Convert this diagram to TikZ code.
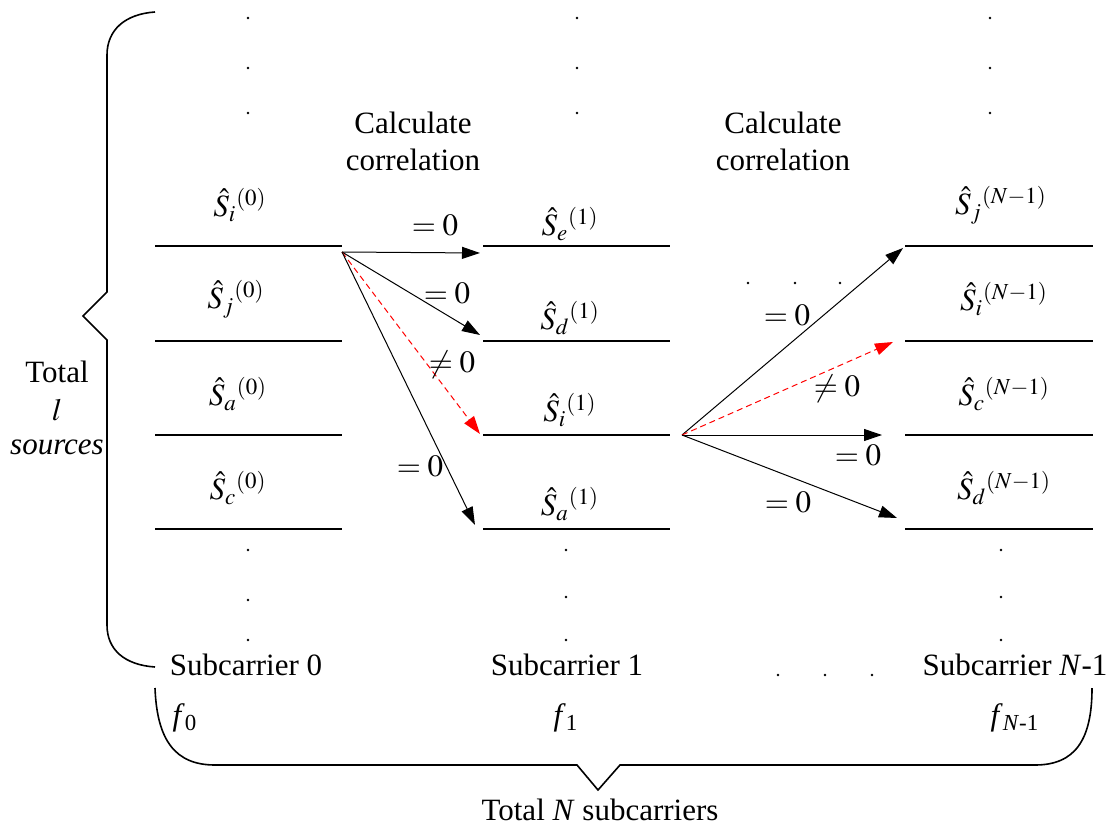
\documentclass[tikz,border=0pt]{standalone}
\usepackage{mathptmx}
\usepackage[no-math]{fontspec}
\setmainfont{Liberation Serif}
\usetikzlibrary{calc, arrows.meta}

\begin{document}
\begin{tikzpicture}[x=0.5pt, y=-0.5pt,
    every node/.style={font=\fontsize{15.5}{18.5}\selectfont, inner sep=0pt},
    slot/.style={line width=1pt},
    link/.style={line width=0.5pt, -{Triangle[length=9pt,width=6pt]}},
    hit/.style={link, red, dash pattern=on 3pt off 2pt},
    brace/.style={line width=0.8pt}]
  \useasboundingbox (0,0) rectangle (1113,829);

  % slots of the three subcarriers
  \foreach \xa/\xb in {155/342, 483/670, 905/1093}
    \foreach \y in {246,341,435,529}
      \draw[slot] (\xa,\y) -- (\xb,\y);

  % estimated sources
  \node (s0i) at (240,205) {$\hat{S}_i{}^{(0)}$};
  \node (s0j) at (236,299) {$\hat{S}_j{}^{(0)}$};
  \node (s0a) at (238,394) {$\hat{S}_a{}^{(0)}$};
  \node (s0c) at (238,488) {$\hat{S}_c{}^{(0)}$};
  \node (s1e) at (570,224) {$\hat{S}_e{}^{(1)}$};
  \node (s1d) at (570,318) {$\hat{S}_d{}^{(1)}$};
  \node (s1i) at (570,410) {$\hat{S}_i{}^{(1)}$};
  \node (s1a) at (570,504) {$\hat{S}_a{}^{(1)}$};
  \node (sNj) at (1001,205) {$\hat{S}_j{}^{(N-1)}$};
  \node (sNi) at (1004,299) {$\hat{S}_i{}^{(N-1)}$};
  \node (sNc) at (1004,394) {$\hat{S}_c{}^{(N-1)}$};
  \node (sNd) at (1004,488) {$\hat{S}_d{}^{(N-1)}$};

  \node[align=center] (calc1) at (413,141) {Calculate\\correlation};
  \node[align=center] (calc2) at (783,141) {Calculate\\correlation};

  % correlation arrows
  \coordinate (o1) at (342,252);
  \coordinate (t1) at (480,253);
  \coordinate (t2) at (480,335);
  \coordinate (t3) at (480,434);
  \coordinate (t4) at (475,525);
  \draw[link] (o1) -- (t1);
  \draw[link] (o1) -- (t2);
  \draw[hit] (o1) -- (t3);
  \draw[link] (o1) -- (t4);
  \node (e1) at (435,225) {$=0$};
  \node (e2) at (447,293) {$=0$};
  \node (e3) at (452,365) {$\neq 0$};
  \node (e4) at (420,466) {$=0$};

  \coordinate (o2) at (682,435);
  \coordinate (u1) at (903,248);
  \coordinate (u2) at (893,342);
  \coordinate (u3) at (882,435);
  \coordinate (u4) at (897,518);
  \draw[link] (o2) -- (u1);
  \draw[hit] (o2) -- (u2);
  \draw[link] (o2) -- (u3);
  \draw[link] (o2) -- (u4);
  \node (g1) at (787,315) {$=0$};
  \node (g2) at (837,389) {$\neq 0$};
  \node (g3) at (858,455) {$=0$};
  \node (g4) at (788,502) {$=0$};

  % dots
  \foreach \x/\y in {248/18, 248/68, 248/113, 248/550, 248/600, 248/640,
                     577/18, 577/68, 577/113, 566/550, 566/597, 566/640,
                     990/18, 990/68, 990/113, 1001/550, 1001/597, 1001/640,
                     748/283, 795/283, 840/283, 778/675, 825/675, 872/675}
    \fill (\x,\y) circle (1.3);

  % braces
  \draw[brace] (155,12) .. controls (125,14) and (107,30) .. (107,55)
    -- (107,292) -- (83,316) -- (107,340) -- (107,625)
    .. controls (107,650) and (125,665) .. (155,667);
  \draw[brace] (155,688) .. controls (157,740) and (175,765) .. (215,765)
    -- (577,765) -- (598,790) -- (620,765) -- (1035,765)
    .. controls (1075,765) and (1092,740) .. (1092,688);

  \node (tot) at (57,372) {Total};
  \node (ll) at (57,410) {$l$};
  \node (src) at (57,447) {\textit{sources}};

  \node (sc0) at (246,665) {Subcarrier 0};
  \node (sc1) at (567,665) {Subcarrier 1};
  \node (scN) at (1015,665) {Subcarrier \textit{N}-1};
  \node (f0) at (185,718) {\textit{f}\textsubscript{0}};
  \node (f1) at (566,718) {\textit{f}\textsubscript{1}};
  \node (fN) at (1015,718) {\textit{f}\textsubscript{\textit{N}-1}};
  \node (totN) at (600,810) {Total \textit{N} subcarriers};
\end{tikzpicture}
\end{document}
